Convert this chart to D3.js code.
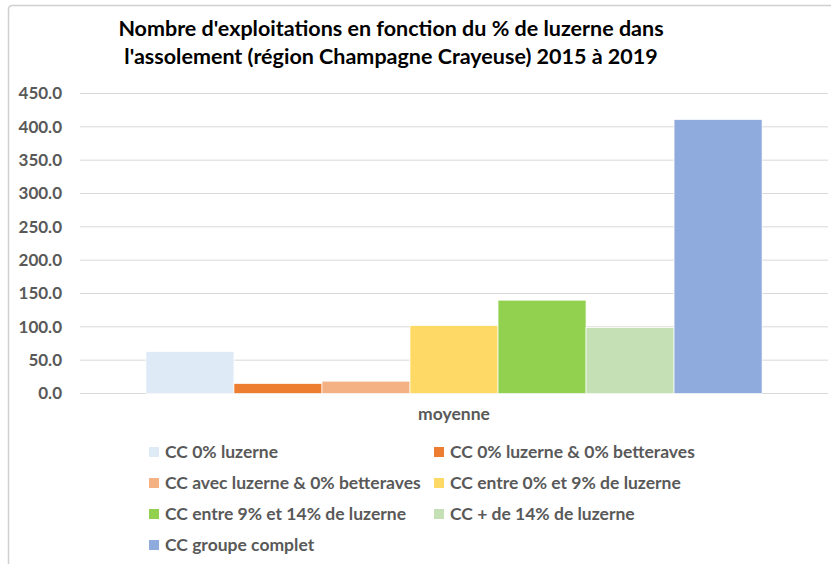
<!DOCTYPE html>
<html>
<head>
<meta charset="utf-8">
<script src="https://cdn.jsdelivr.net/npm/d3@7"></script>
<style>
  body { margin: 0; background: #fff; }
  text { font-family: Lato, "Open Sans", sans-serif; }
</style>
</head>
<body>
<script>
const categories = ["moyenne"];
const seriesNames = [
  "CC 0% luzerne",
  "CC 0% luzerne & 0% betteraves",
  "CC avec luzerne & 0% betteraves",
  "CC entre 0% et 9% de luzerne",
  "CC entre 9% et 14% de luzerne",
  "CC + de 14% de luzerne",
  "CC groupe complet"
];
const values = [63, 15, 18.5, 102, 140, 99, 411];
const colors = ["#DEEBF7", "#ED7D31", "#F4B183", "#FFD966", "#92D050", "#C5E0B4", "#8FAADC"];
const yTicks = [0, 50, 100, 150, 200, 250, 300, 350, 400, 450];
const titleLines = [
  "Nombre d'exploitations en fonction du % de luzerne dans",
  "l'assolement (région Champagne Crayeuse) 2015 à 2019"
];

const W = 831, H = 564;
const plot = { left: 80, right: 828, top: 93.5, bottom: 393.5 };
const grey = "#595959";

const svg = d3.select("body").append("svg")
  .attr("width", W)
  .attr("height", H);

// cadre du graphique
svg.append("path")
  .attr("d", "M8.5,564V9.5Q8.5,5.5 12.5,5.5H831")
  .attr("fill", "none")
  .attr("stroke", "#d0d0d0")
  .attr("stroke-width", 1.5);

// titre
svg.selectAll("text.title")
  .data(titleLines)
  .enter()
  .append("text")
  .attr("class", "title")
  .attr("x", 391)
  .attr("y", (d, i) => 36 + i * 28)
  .attr("text-anchor", "middle")
  .attr("font-size", 21.5)
  .attr("font-weight", "bold")
  .attr("fill", "#000")
  .text(d => d);

const y = d3.scaleLinear().domain([0, 450]).range([plot.bottom, plot.top]);
const x0 = d3.scaleBand().domain(categories).range([plot.left, plot.right]).paddingInner(0).paddingOuter(0.107);
const x1 = d3.scaleBand().domain(seriesNames).range([0, x0.bandwidth()]);

// grille
svg.append("g")
  .selectAll("line")
  .data(yTicks)
  .enter()
  .append("line")
  .attr("x1", plot.left)
  .attr("x2", plot.right)
  .attr("y1", d => y(d))
  .attr("y2", d => y(d))
  .attr("stroke", "#d9d9d9")
  .attr("stroke-width", 1);

// axe Y
const yAxis = svg.append("g")
  .attr("transform", `translate(${plot.left},0)`)
  .call(d3.axisLeft(y).tickValues(yTicks).tickFormat(d3.format(".1f")).tickSize(0).tickPadding(18));
yAxis.select(".domain").remove();
yAxis.selectAll("text")
  .attr("font-family", "Lato, sans-serif")
  .attr("font-size", 17)
  .attr("font-weight", "bold")
  .attr("fill", grey);

// barres
const flat = seriesNames.map((s, i) => ({ cat: categories[0], name: s, value: values[i], color: colors[i] }));
svg.append("g")
  .selectAll("rect")
  .data(flat)
  .enter()
  .append("rect")
  .attr("x", d => x0(d.cat) + x1(d.name))
  .attr("y", d => y(d.value))
  .attr("width", x1.bandwidth())
  .attr("height", d => y(0) - y(d.value))
  .attr("fill", d => d.color)
  .attr("stroke", "#fff")
  .attr("stroke-width", 0.7);

// axe X
const xAxis = svg.append("g")
  .attr("transform", `translate(0,${plot.bottom})`)
  .call(d3.axisBottom(x0).tickSize(0).tickPadding(14));
xAxis.select(".domain").remove();
xAxis.selectAll("text")
  .attr("font-family", "Lato, sans-serif")
  .attr("font-size", 17.5)
  .attr("font-weight", "bold")
  .attr("fill", grey);

// légende
const legend = svg.append("g")
  .selectAll("g")
  .data(flat)
  .enter()
  .append("g")
  .attr("transform", (d, i) => `translate(${i % 2 === 0 ? 149 : 434},${452 + Math.floor(i / 2) * 31})`);
legend.append("rect")
  .attr("x", 0)
  .attr("y", -5)
  .attr("width", 10)
  .attr("height", 10)
  .attr("fill", d => d.color);
legend.append("text")
  .attr("x", 16)
  .attr("y", 6)
  .attr("font-size", 17.5)
  .attr("font-weight", "bold")
  .attr("fill", grey)
  .text(d => d.name);
</script>
</body>
</html>
